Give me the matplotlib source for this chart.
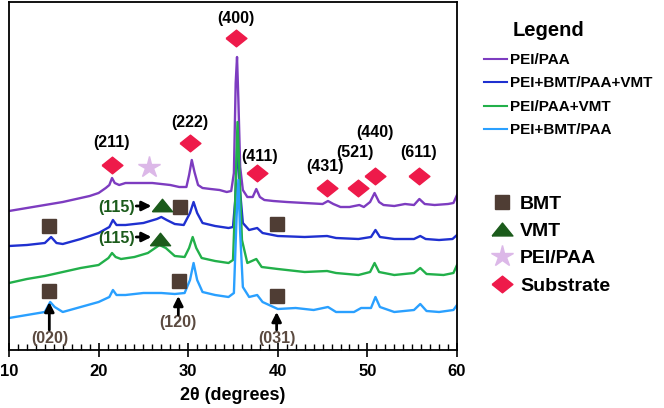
import matplotlib
matplotlib.use("Agg")
import matplotlib.pyplot as plt
from matplotlib.lines import Line2D
from matplotlib.ticker import MultipleLocator

plt.rcParams['font.family'] = ['Liberation Sans', 'DejaVu Sans']
plt.rcParams['font.weight'] = 'bold'

# ---------------- traces (2theta, stacked intensity in plot units) ----------------
x_pei_paa = [10, 12, 14, 16, 18, 19, 20, 20.8, 21.2, 21.5, 21.8, 22.3, 23, 24, 25, 26, 27, 28, 29,
             29.8, 30.1, 30.4, 30.7, 31.1, 31.6, 32.5, 33.5, 34.3, 34.8, 35.1, 35.3, 35.45, 35.6,
             35.8, 36.1, 36.6, 37.2, 37.6, 38.0, 38.5, 39.5, 41, 43, 45, 45.6, 46.2, 47, 48, 49.1,
             49.6, 50.3, 50.8, 51.3, 51.8, 53, 54.2, 55.2, 55.8, 56.4, 57.5, 59, 59.6, 60]
y_pei_paa = [139, 142, 145, 148, 152, 154, 157, 162, 165, 172, 167, 165, 167, 167, 167, 167, 166, 165, 163,
             163, 175, 190, 178, 165, 162, 161, 160, 158, 159, 177, 267, 293, 250,
             183, 160, 153, 153, 161, 153, 150, 149, 148, 147, 146, 149, 146, 143, 143, 145,
             143, 148, 157, 148, 145, 144, 146, 145, 151, 146, 145, 146, 147, 155]

x_bmt_vmt = [10, 12, 14, 14.7, 15.3, 16, 18, 20, 21.2, 21.6, 22, 23, 25, 26.5, 27, 27.6, 28.5, 29.5,
             30.2, 30.6, 31.0, 31.6, 33, 34.5, 35.0, 35.25, 35.5, 35.75, 36.1, 36.8, 37.7, 38.3, 40,
             43, 45.5, 46.5, 49, 50.4, 50.9, 51.4, 53, 55.2, 55.9, 56.5, 58, 59.5, 60]
y_bmt_vmt = [104, 105, 107, 113, 107, 106, 111, 117, 123, 130, 125, 125, 127, 131, 133, 130, 126, 125,
             137, 148, 137, 127, 124, 122, 123, 150, 210, 163, 127, 120, 122, 117, 114,
             113, 114, 112, 111, 113, 120, 113, 111, 111, 114, 111, 110, 111, 115]

x_paa_vmt = [10, 12, 14, 16, 18, 20, 21.1, 21.5, 21.9, 22.5, 24, 25.5, 26.8, 27.5, 28.5, 29.6, 30.1,
             30.5, 30.9, 31.5, 33, 34.5, 35.0, 35.25, 35.5, 35.7, 36.0, 36.6, 37.6, 38.2, 40, 43,
             45.5, 46.5, 49, 50.3, 50.8, 51.3, 53, 55.2, 55.9, 56.6, 58.5, 59.6, 60]
y_paa_vmt = [67, 71, 74, 78, 82, 85, 92, 97, 93, 91, 93, 97, 105, 102, 94, 93, 102,
             113, 102, 92, 89, 87, 90, 150, 228, 183, 110, 87, 91, 83, 81, 78,
             79, 77, 75, 78, 87, 78, 75, 77, 82, 76, 75, 77, 85]

x_bmt_paa = [10, 12, 14, 14.6, 15.1, 16, 18, 20, 21.2, 21.6, 22.0, 23, 25, 27, 28.5, 29.6, 30.2,
             30.6, 31.0, 31.6, 33, 34.5, 35.1, 35.4, 35.6, 35.8, 36.1, 36.8, 37.7, 38.3, 40, 42,
             44, 45.6, 46.5, 48.5, 49.3, 50.4, 50.9, 51.4, 53, 55.2, 55.9, 56.6, 58, 59.6, 60]
y_bmt_paa = [32, 35, 38, 48, 43, 38, 43, 48, 53, 60, 55, 55, 57, 57, 56, 57, 70,
             87, 70, 58, 55, 53, 57, 133, 170, 117, 63, 53, 55, 48, 41, 42,
             40, 43, 38, 38, 42, 42, 53, 43, 38, 40, 46, 39, 38, 40, 45]

series_names = ['PEI/PAA', 'PEI+BMT/PAA+VMT', 'PEI/PAA+VMT', 'PEI+BMT/PAA']
series_colors = ['#7d3cc0', '#1f30d0', '#22b04a', '#2aa0ff']

# ---------------- peak markers ----------------
sub_x = [35.33, 21.46, 30.2, 37.71, 45.53, 48.99, 50.85, 55.76]
sub_y = [312, 185, 207, 177, 162, 162, 174, 174]
sub_lbl = ['(400)', '(211)', '(222)', '(411)', '(431)', '(521)', '(440)', '(611)']
sub_lbl_x = [35.33, 21.46, 30.2, 37.94, 45.27, 48.62, 50.85, 55.76]
sub_lbl_y = [331, 207, 227, 193, 183, 197, 217, 198]

bmt_x = [14.5, 29.08, 39.87, 14.5, 28.94, 39.87]
bmt_y = [124, 143, 126, 59, 69, 54]

vmt_x = [27.04, 26.85]
vmt_y = [145, 111]

star_x = [25.63]
star_y = [183]

# (hkl) of BMT with vertical arrows: label, x, label y, arrow start y, arrow end y
bmt_hkl = ['(020)', '(120)', '(031)']
bmt_hkl_x = [14.5, 28.9, 39.87]
bmt_hkl_y = [11, 27, 11]
bmt_arrow_from = [20, 35, 20]
bmt_arrow_to = [48, 54, 38]

vmt_hkl_y = [142, 111]

RED = '#ee1a4a'
BROWN = '#4f3d34'
DKGREEN = '#1b5b1b'
LAVENDER = '#dcb8e8'
diamond = [(-1, 0), (0, 0.8), (1, 0), (0, -0.8), (-1, 0)]
triangle = [(-1, -0.62), (1, -0.62), (0, 0.62), (-1, -0.62)]

fig = plt.figure(figsize=(6.64, 4.08), dpi=100)
ax = fig.add_axes([9 / 664, 1 - 350 / 408, 448 / 664, 348 / 408])

for xs, ys, c in zip([x_pei_paa, x_bmt_vmt, x_paa_vmt, x_bmt_paa],
                     [y_pei_paa, y_bmt_vmt, y_paa_vmt, y_bmt_paa], series_colors):
    ax.plot(xs, ys, color=c, lw=1.7, solid_joinstyle='round')

ax.plot(sub_x, sub_y, ls='none', marker=diamond, ms=15, color=RED, mec=RED)
ax.plot(bmt_x, bmt_y, ls='none', marker='s', ms=10, color=BROWN)
ax.plot(vmt_x, vmt_y, ls='none', marker=triangle, ms=14.5, color=DKGREEN)
ax.plot(star_x, star_y, ls='none', marker='*', ms=16, color=LAVENDER)

for t, lx, ly in zip(sub_lbl, sub_lbl_x, sub_lbl_y):
    ax.text(lx, ly, t, ha='center', va='center', fontsize=11.5, fontweight='bold', color='black')

arrow_kw = dict(arrowstyle='-|>', color='black', lw=2, mutation_scale=14, shrinkA=0, shrinkB=0)
for t, lx, ly, a0, a1 in zip(bmt_hkl, bmt_hkl_x, bmt_hkl_y, bmt_arrow_from, bmt_arrow_to):
    ax.text(lx, ly, t, ha='center', va='center', fontsize=11.5, fontweight='bold', color='#5b4a40')
    ax.annotate('', xy=(lx, a1), xytext=(lx, a0), arrowprops=arrow_kw)

for ly, tx in zip(vmt_hkl_y, vmt_x):
    ax.text(22.02, ly, '(115)', ha='center', va='center', fontsize=11.5, fontweight='bold', color=DKGREEN)
    ax.annotate('', xy=(25.9, ly + 2), xytext=(24.2, ly + 2), arrowprops=arrow_kw)

ax.set_xlim(10, 60)
ax.set_ylim(0, 348)
ax.set_yticks([])
ax.xaxis.set_major_locator(MultipleLocator(10))
ax.xaxis.set_minor_locator(MultipleLocator(1))
ax.tick_params(axis='x', which='major', direction='inout', length=10, width=1.2,
               labelsize=12, pad=5)
ax.tick_params(axis='x', which='minor', direction='in', length=4, width=1)
for lab in ax.get_xticklabels():
    lab.set_fontweight('bold')
for sp in ax.spines.values():
    sp.set_linewidth(1.3)
ax.set_xlabel('2θ (degrees)', fontsize=13, fontweight='bold', labelpad=6)

# legends
fig.text(548 / 664, 1 - 31 / 408, 'Legend', ha='center', va='center', fontsize=14.5, fontweight='bold')
line_handles = [Line2D([], [], color=c, lw=1.5) for c in series_colors]
fig.legend(line_handles, series_names, loc='upper left', bbox_to_anchor=(484 / 664, 1 - 53 / 408),
           frameon=False, borderpad=0, borderaxespad=0, handlelength=1.5, handletextpad=0.2,
           labelspacing=0.62, prop={'size': 11, 'weight': 'bold'})

mk_handles = [Line2D([], [], ls='none', marker='s', ms=10, color=BROWN),
              Line2D([], [], ls='none', marker=triangle, ms=15, color=DKGREEN),
              Line2D([], [], ls='none', marker='*', ms=16, color=LAVENDER),
              Line2D([], [], ls='none', marker=diamond, ms=15, color=RED)]
fig.legend(mk_handles, ['BMT', 'VMT', 'PEI/PAA', 'Substrate'], loc='upper left',
           bbox_to_anchor=(492 / 664, 1 - 195 / 408), frameon=False, borderpad=0, borderaxespad=0,
           handlelength=1.0, handletextpad=0.45, labelspacing=0.5, prop={'size': 14, 'weight': 'bold'})

fig.savefig('out.png', dpi=100)
